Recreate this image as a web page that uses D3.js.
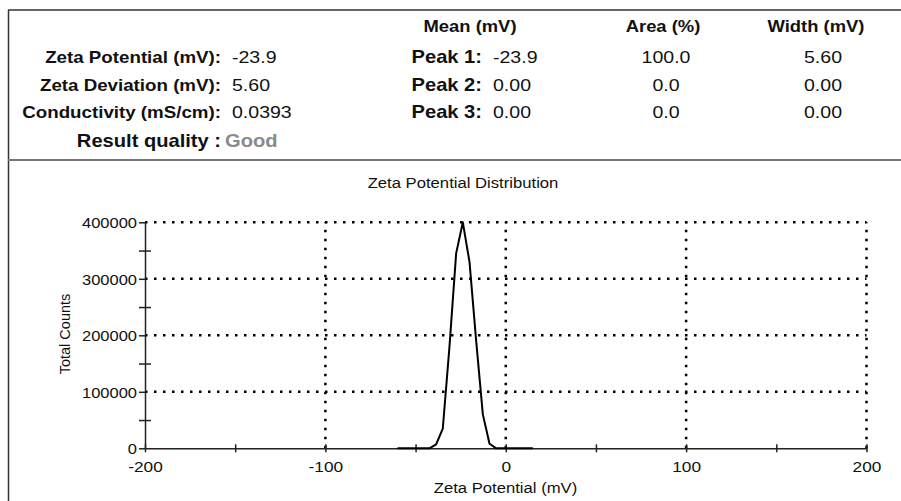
<!DOCTYPE html>
<html>
<head>
<meta charset="utf-8">
<script src="https://cdn.jsdelivr.net/npm/d3@7"></script>
<style>
  body { margin: 0; background: #fff; }
  svg { display: block; font-family: "Liberation Sans", Arial, sans-serif; }
</style>
</head>
<body>
<div id="chart"></div>
<script>
// summary table
const columnHeaders = ["Mean (mV)", "Area (%)", "Width (mV)"];
const summaryLabels = ["Zeta Potential (mV):", "Zeta Deviation (mV):", "Conductivity (mS/cm):"];
const summaryValues = ["-23.9", "5.60", "0.0393"];
const peakLabels = ["Peak 1:", "Peak 2:", "Peak 3:"];
const peakMeans = ["-23.9", "0.00", "0.00"];
const peakAreas = ["100.0", "0.0", "0.0"];
const peakWidths = ["5.60", "0.00", "0.00"];
const qualityLabel = "Result quality :";
const qualityValue = "Good";

// distribution curve
const zetaMv = [-60, -46, -42.3, -38.6, -34.9, -31.2, -27.5, -23.8, -20.1, -16.4, -12.7, -9, -5.3, 15];
const totalCounts = [0, 0, 0, 7000, 35000, 180000, 345000, 400000, 330000, 190000, 60000, 8000, 0, 0];

const xLabelTicks = [-200, -100, 0, 100, 200];
const xMinorTicks = [-200, -150, -100, -50, 0, 50, 100, 150, 200];
const yLabelTicks = [0, 100000, 200000, 300000, 400000];
const yMinorTicks = [0, 50000, 100000, 150000, 200000, 250000, 300000, 350000, 400000];

const width = 901;
const height = 501;
const sx = 1.15; // the source text is a bit wider than Arial

const svg = d3.select("#chart").append("svg")
    .attr("width", width)
    .attr("height", height);

// helper: text with horizontal stretch
function addText(g, x, y, str, opts) {
  return g.append("text")
      .attr("transform", `translate(${x},${y}) scale(${sx},1)`)
      .attr("text-anchor", opts.anchor || "start")
      .style("font-size", opts.size + "px")
      .style("font-weight", opts.bold ? "bold" : "normal")
      .attr("fill", opts.color || "#111")
      .text(str);
}

// frame
svg.append("line").attr("x1", 8).attr("x2", width).attr("y1", 10).attr("y2", 10)
    .attr("stroke", "#333").attr("stroke-width", 1.5);
svg.append("line").attr("x1", 8.5).attr("x2", 8.5).attr("y1", 10).attr("y2", height)
    .attr("stroke", "#333").attr("stroke-width", 1.5);
svg.append("line").attr("x1", 8).attr("x2", width).attr("y1", 160).attr("y2", 160)
    .attr("stroke", "#777").attr("stroke-width", 2);

// table
const table = svg.append("g");
const rowY = [63, 90.5, 118];
const headerX = [470, 663, 816];
columnHeaders.forEach((h, i) => addText(table, headerX[i], 31.5, h, { size: 16, bold: true, anchor: "middle" }));

summaryLabels.forEach((s, i) => {
  addText(table, 221, rowY[i], s, { size: 16.3, bold: true, anchor: "end" });
  addText(table, 232, rowY[i], summaryValues[i], { size: 17 });
});
addText(table, 221, 146.5, qualityLabel, { size: 17.5, bold: true, anchor: "end" });
addText(table, 225, 146.5, qualityValue, { size: 17.5, bold: true, color: "#8a8a8a" });

peakLabels.forEach((p, i) => {
  addText(table, 482, rowY[i], p, { size: 17.5, bold: true, anchor: "end" });
  addText(table, 493, rowY[i], peakMeans[i], { size: 17 });
  addText(table, 666, rowY[i], peakAreas[i], { size: 17, anchor: "middle" });
  addText(table, 823, rowY[i], peakWidths[i], { size: 17, anchor: "middle" });
});

// plot
const x = d3.scaleLinear().domain([-200, 200]).range([145, 866.5]);
const y = d3.scaleLinear().domain([0, 400000]).range([448.3, 222.3]);

const plot = svg.append("g");

// dotted grid
plot.append("g")
  .selectAll("line")
  .data(yLabelTicks.filter(d => d > 0))
  .enter().append("line")
    .attr("x1", x(-200)).attr("x2", x(200))
    .attr("y1", d => y(d)).attr("y2", d => y(d))
    .attr("stroke", "#000").attr("stroke-width", 2.5)
    .attr("stroke-dasharray", "2.5,6.5");
plot.append("g")
  .selectAll("line")
  .data(xLabelTicks.filter(d => d > -200))
  .enter().append("line")
    .attr("x1", d => x(d)).attr("x2", d => x(d))
    .attr("y1", y(0)).attr("y2", y(400000))
    .attr("stroke", "#000").attr("stroke-width", 2.5)
    .attr("stroke-dasharray", "2.5,6.5");

// axes
const yAxis = plot.append("g")
    .attr("transform", `translate(${x(-200)},0)`)
    .call(d3.axisLeft(y).tickValues(yMinorTicks).tickSize(6).tickSizeOuter(0)
      .tickFormat(d => yLabelTicks.includes(d) ? d3.format("d")(d) : ""));
yAxis.selectAll(".tick line").attr("x1", d => yLabelTicks.includes(d) ? 0 : 6);
yAxis.selectAll(".tick text")
    .attr("x", null).attr("dy", null)
    .attr("transform", `translate(-8,5.5) scale(1.1,1)`)
    .style("font-size", "15px").attr("fill", "#111");

const xAxis = plot.append("g")
    .attr("transform", `translate(0,${y(0)})`)
    .call(d3.axisBottom(x).tickValues(xMinorTicks).tickSize(4).tickSizeOuter(0)
      .tickFormat(d => xLabelTicks.includes(d) ? d : ""));
xAxis.selectAll(".tick line").attr("y1", -4);
xAxis.selectAll(".tick text")
    .attr("y", null).attr("dy", null)
    .attr("transform", `translate(0,24) scale(${sx},1)`)
    .style("font-size", "15px").attr("fill", "#111");

svg.selectAll(".domain").attr("stroke", "#222").attr("stroke-width", 1.5);
svg.selectAll(".tick line").attr("stroke", "#222").attr("stroke-width", 1.5);

// curve
const pts = zetaMv.map((v, i) => [v, totalCounts[i]]);
plot.append("path")
    .datum(pts)
    .attr("fill", "none")
    .attr("stroke", "#000")
    .attr("stroke-width", 2)
    .attr("stroke-linejoin", "round")
    .attr("d", d3.line().x(d => x(d[0])).y(d => y(d[1])));

// titles
addText(svg, 463, 188, "Zeta Potential Distribution", { size: 14.5, anchor: "middle" });
addText(svg, 505.5, 493, "Zeta Potential (mV)", { size: 14.5, anchor: "middle" });
svg.append("text")
    .attr("transform", "translate(70,334) rotate(-90)")
    .attr("text-anchor", "middle")
    .style("font-size", "14.5px")
    .attr("fill", "#111")
    .text("Total Counts");
</script>
</body>
</html>
